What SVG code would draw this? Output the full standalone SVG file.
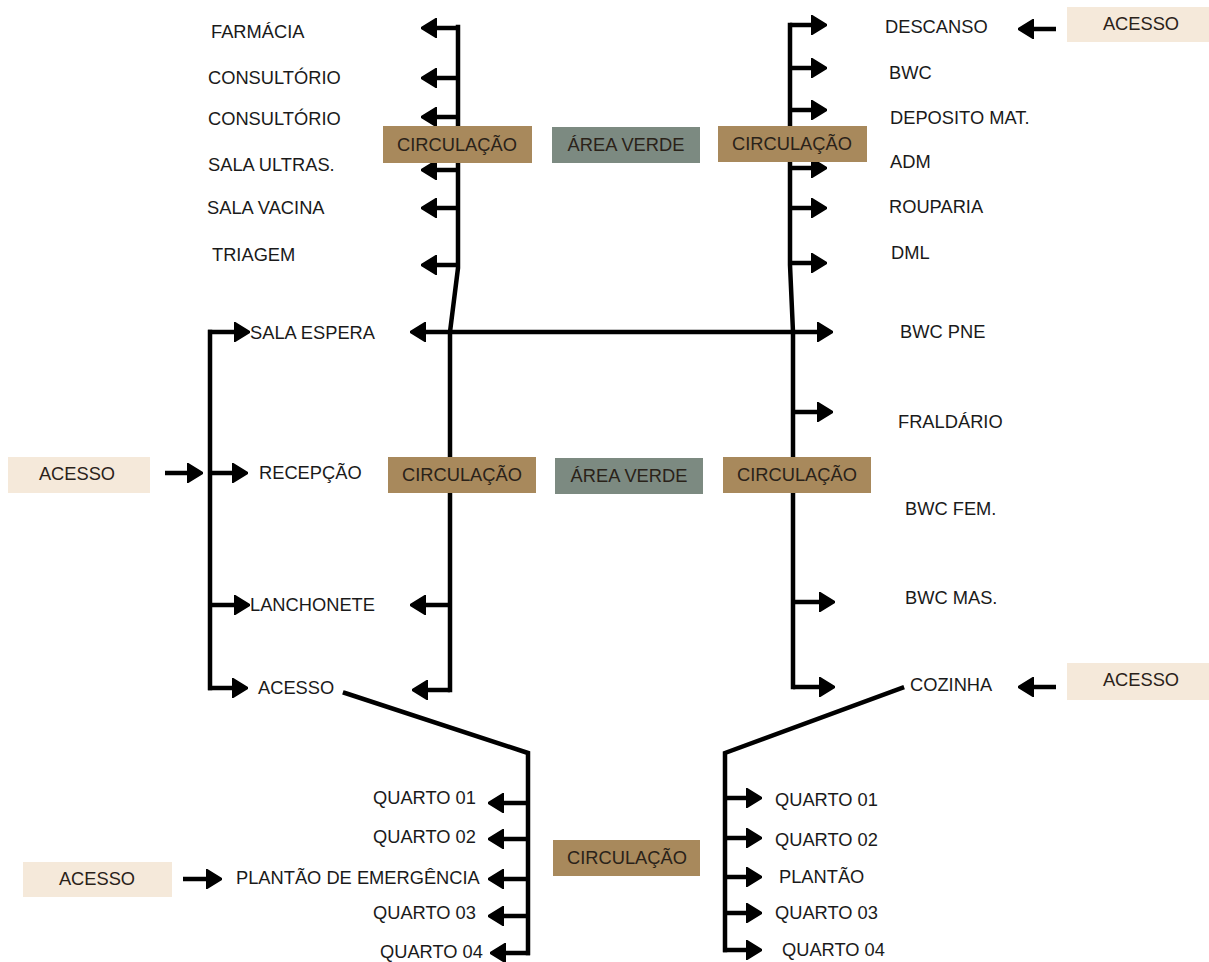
<svg xmlns="http://www.w3.org/2000/svg" width="1209" height="962" viewBox="0 0 1209 962">
<style>
.lbl{font-family:"Liberation Sans",Arial,sans-serif;font-size:18.3px;fill:#1a1a1a}
.btx{font-family:"Liberation Sans",Arial,sans-serif;font-size:18.3px;fill:#2a2219;text-anchor:middle}
.circ{fill:#A8895C}
.verde{fill:#7C8A81}
.acesso{fill:#F5E9DA}
.ln{stroke:#000;stroke-width:4.5;fill:none;stroke-linejoin:miter}
.sp{stroke:#000;stroke-width:4.5;fill:none;stroke-linecap:square;stroke-linejoin:miter}
.ar{marker-end:url(#ah)}
</style>
<defs>
<marker id="ah" viewBox="0 0 16 20" markerWidth="16" markerHeight="20" refX="5" refY="10" orient="auto-start-reverse" markerUnits="userSpaceOnUse">
<path d="M0,0 L16,10 L0,20 Z" fill="#000" stroke="#000" stroke-width="1.5" stroke-linejoin="round"/>
</marker>
</defs>
<rect width="1209" height="962" fill="#fff"/>

<g id="connectors">
<path class="sp" d="M458,27 V268 L450,332 V690"/>
<path class="ln ar" d="M450,690 H423"/>
<line class="ln ar" x1="458" y1="28" x2="432" y2="28"/>
<line class="ln ar" x1="458" y1="78" x2="432" y2="78"/>
<line class="ln ar" x1="458" y1="117" x2="432" y2="117"/>
<line class="ln ar" x1="458" y1="170" x2="432" y2="170"/>
<line class="ln ar" x1="458" y1="208" x2="432" y2="208"/>
<line class="ln ar" x1="458" y1="265" x2="432" y2="265"/>
<line class="ln ar" x1="450" y1="605" x2="421" y2="605"/>
<path class="sp" d="M790,25 V265 L793,332 V687"/>
<path class="ln ar" d="M793,687 H824"/>
<line class="ln ar" x1="790" y1="25" x2="816" y2="25"/>
<line class="ln ar" x1="790" y1="68" x2="816" y2="68"/>
<line class="ln ar" x1="790" y1="110" x2="816" y2="110"/>
<line class="ln ar" x1="790" y1="168" x2="816" y2="168"/>
<line class="ln ar" x1="790" y1="208" x2="816" y2="208"/>
<line class="ln ar" x1="790" y1="263" x2="816" y2="263"/>
<line class="ln ar" x1="793" y1="412" x2="822" y2="412"/>
<line class="ln ar" x1="793" y1="602" x2="824" y2="602"/>
<line class="ln" x1="421" y1="332" x2="822" y2="332" marker-start="url(#ah)" marker-end="url(#ah)"/>
<path class="sp" d="M210,332 V688"/>
<line class="ln ar" x1="208" y1="332" x2="239" y2="332"/>
<line class="ln ar" x1="210" y1="473" x2="237" y2="473"/>
<line class="ln ar" x1="210" y1="605" x2="239" y2="605"/>
<line class="ln ar" x1="208" y1="688" x2="237" y2="688"/>
<line class="ln ar" x1="165" y1="473" x2="192" y2="473"/>
<line class="ln ar" x1="1056" y1="29" x2="1029" y2="29"/>
<line class="ln ar" x1="1056" y1="687" x2="1029" y2="687"/>
<line class="ln ar" x1="183" y1="879" x2="211" y2="879"/>
<path class="sp" d="M345,693 L528,753 V953"/>
<line class="ln ar" x1="528" y1="803" x2="499" y2="803"/>
<line class="ln ar" x1="528" y1="839" x2="499" y2="839"/>
<line class="ln ar" x1="528" y1="879" x2="499" y2="879"/>
<line class="ln ar" x1="528" y1="916" x2="499" y2="916"/>
<line class="ln ar" x1="530" y1="953" x2="501" y2="953"/>
<path class="sp" d="M902,688 L725,753 V950"/>
<line class="ln ar" x1="725" y1="798" x2="751" y2="798"/>
<line class="ln ar" x1="725" y1="838" x2="751" y2="838"/>
<line class="ln ar" x1="725" y1="877" x2="751" y2="877"/>
<line class="ln ar" x1="725" y1="913" x2="751" y2="913"/>
<line class="ln ar" x1="723" y1="950" x2="751" y2="950"/>
</g>

<g id="circ-top-left"><rect class="circ" x="383" y="126" width="149" height="37"/><text class="btx" x="457" y="151">CIRCULAÇÃO</text></g>
<g id="verde-top"><rect class="verde" x="552" y="127" width="148" height="36"/><text class="btx" x="626" y="151">ÁREA VERDE</text></g>
<g id="circ-top-right"><rect class="circ" x="718" y="126" width="149" height="36"/><text class="btx" x="792" y="150">CIRCULAÇÃO</text></g>
<g id="circ-mid-left"><rect class="circ" x="388" y="457" width="148" height="36"/><text class="btx" x="462" y="481">CIRCULAÇÃO</text></g>
<g id="verde-mid"><rect class="verde" x="555" y="458" width="148" height="36"/><text class="btx" x="629" y="482">ÁREA VERDE</text></g>
<g id="circ-mid-right"><rect class="circ" x="723" y="457" width="148" height="36"/><text class="btx" x="797" y="481">CIRCULAÇÃO</text></g>
<g id="circ-bottom"><rect class="circ" x="553" y="840" width="147" height="36"/><text class="btx" x="627" y="864">CIRCULAÇÃO</text></g>

<g id="acesso-top-right"><rect class="acesso" x="1067" y="7" width="142" height="35"/><text class="btx" x="1141" y="30">ACESSO</text></g>
<g id="acesso-mid-left"><rect class="acesso" x="8" y="457" width="142" height="36"/><text class="btx" x="77" y="480">ACESSO</text></g>
<g id="acesso-mid-right"><rect class="acesso" x="1067" y="663" width="142" height="37"/><text class="btx" x="1141" y="686">ACESSO</text></g>
<g id="acesso-bottom-left"><rect class="acesso" x="23" y="862" width="149" height="35"/><text class="btx" x="97" y="885">ACESSO</text></g>

<g id="farmacia"><text class="lbl" x="211" y="38">FARMÁCIA</text></g>
<g id="consultorio1"><text class="lbl" x="208" y="84">CONSULTÓRIO</text></g>
<g id="consultorio2"><text class="lbl" x="208" y="125">CONSULTÓRIO</text></g>
<g id="sala-ultras"><text class="lbl" x="208" y="171">SALA ULTRAS.</text></g>
<g id="sala-vacina"><text class="lbl" x="207" y="214">SALA VACINA</text></g>
<g id="triagem"><text class="lbl" x="212" y="261">TRIAGEM</text></g>

<g id="descanso"><text class="lbl" x="885" y="33">DESCANSO</text></g>
<g id="bwc"><text class="lbl" x="889" y="79">BWC</text></g>
<g id="deposito"><text class="lbl" x="890" y="124">DEPOSITO MAT.</text></g>
<g id="adm"><text class="lbl" x="890" y="168">ADM</text></g>
<g id="rouparia"><text class="lbl" x="889" y="213">ROUPARIA</text></g>
<g id="dml"><text class="lbl" x="891" y="259">DML</text></g>

<g id="sala-espera"><text class="lbl" x="250" y="339">SALA ESPERA</text></g>
<g id="recepcao"><text class="lbl" x="259" y="479">RECEPÇÃO</text></g>
<g id="lanchonete"><text class="lbl" x="250" y="611">LANCHONETE</text></g>
<g id="acesso-mid"><text class="lbl" x="258" y="694">ACESSO</text></g>

<g id="bwc-pne"><text class="lbl" x="900" y="338">BWC PNE</text></g>
<g id="fraldario"><text class="lbl" x="898" y="428">FRALDÁRIO</text></g>
<g id="bwc-fem"><text class="lbl" x="905" y="515">BWC FEM.</text></g>
<g id="bwc-mas"><text class="lbl" x="905" y="604">BWC MAS.</text></g>
<g id="cozinha"><text class="lbl" x="910" y="691">COZINHA</text></g>

<g id="quarto01-l"><text class="lbl" x="373" y="804">QUARTO 01</text></g>
<g id="quarto02-l"><text class="lbl" x="373" y="843">QUARTO 02</text></g>
<g id="plantao-emerg"><text class="lbl" x="236" y="884">PLANTÃO DE EMERGÊNCIA</text></g>
<g id="quarto03-l"><text class="lbl" x="373" y="919">QUARTO 03</text></g>
<g id="quarto04-l"><text class="lbl" x="380" y="958">QUARTO 04</text></g>

<g id="quarto01-r"><text class="lbl" x="775" y="806">QUARTO 01</text></g>
<g id="quarto02-r"><text class="lbl" x="775" y="846">QUARTO 02</text></g>
<g id="plantao"><text class="lbl" x="779" y="883">PLANTÃO</text></g>
<g id="quarto03-r"><text class="lbl" x="775" y="919">QUARTO 03</text></g>
<g id="quarto04-r"><text class="lbl" x="782" y="956">QUARTO 04</text></g>
</svg>
